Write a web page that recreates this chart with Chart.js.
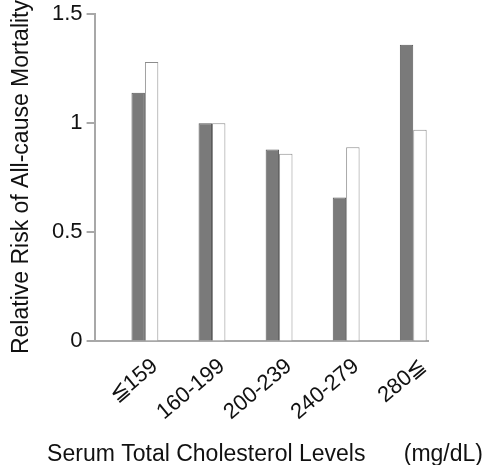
<!DOCTYPE html>
<html>
<head>
<meta charset="utf-8">
<script src="https://cdn.jsdelivr.net/npm/chart.js@4"></script>
<style>
  html, body { margin: 0; padding: 0; background: #fff; }
  #wrap { width: 485px; height: 465px; }
</style>
</head>
<body>
<div id="wrap"><canvas id="c" width="485" height="465"></canvas></div>
<script>
// Cholesterol level groups (mg/dL)
const categories = ['≦159', '160-199', '200-239', '240-279', '280≦'];
// Relative risk of all-cause mortality, two series per group
const seriesDark = [1.14, 1.00, 0.88, 0.66, 1.36];
const seriesLight = [1.28, 1.00, 0.86, 0.89, 0.97];
const yTicks = [0, 0.5, 1, 1.5];
const yTickLabels = ['0', '0.5', '1', '1.5'];

const positions = categories.map((_, i) => i + 1);
const toPoints = vals => vals.map((v, i) => ({ x: positions[i], y: v }));

const font = 'Liberation Sans, Arial, sans-serif';
const axisGray = '#a8a8a8';
const textColor = '#111';

new Chart(document.getElementById('c'), {
  type: 'bar',
  data: {
    datasets: [
      {
        data: toPoints(seriesDark),
        backgroundColor: '#7a7a7a',
        borderColor: '#585858',
        borderWidth: 1,
        categoryPercentage: 0.4,
        barPercentage: 1.0
      },
      {
        data: toPoints(seriesLight),
        backgroundColor: '#ffffff',
        borderColor: '#8c8c8c',
        borderWidth: 1,
        categoryPercentage: 0.4,
        barPercentage: 1.0
      }
    ]
  },
  options: {
    responsive: false,
    animation: false,
    layout: { padding: { left: 0, right: 2, top: 0, bottom: 0 } },
    plugins: {
      legend: { display: false },
      tooltip: { enabled: false },
      // x-axis caption, right-aligned under the plot
      title: {
        display: true,
        position: 'bottom',
        align: 'end',
        fullSize: true,
        text: 'Serum Total Cholesterol Levels      (mg/dL)',
        color: textColor,
        font: { family: font, size: 23, weight: 'normal', lineHeight: 1 },
        padding: { top: 14, bottom: -1.5 }
      },
      // y-axis caption, running up the left edge
      subtitle: {
        display: true,
        position: 'left',
        align: 'end',
        fullSize: true,
        text: 'Relative Risk of All-cause Mortality',
        color: textColor,
        font: { family: font, size: 23, weight: 'normal', lineHeight: 1 },
        padding: { top: 10, bottom: 15 }
      }
    },
    scales: {
      x: {
        type: 'linear',
        min: 0.25,
        max: 5.22,
        offset: false,
        afterBuildTicks: s => { s.ticks = positions.map(p => ({ value: p })); },
        grid: { display: false, offset: false },
        border: { display: true, color: axisGray, width: 2 },
        ticks: {
          callback: v => categories[v - 1],
          minRotation: 40,
          maxRotation: 40,
          autoSkip: false,
          labelOffset: 10,
          color: textColor,
          padding: 4,
          font: { family: font, size: 22 }
        }
      },
      y: {
        min: 0,
        max: 1.5,
        afterBuildTicks: s => { s.ticks = yTicks.map(v => ({ value: v })); },
        grid: { drawOnChartArea: false, drawTicks: true, tickLength: 8, color: axisGray, lineWidth: 2 },
        border: { display: true, color: axisGray, width: 2 },
        ticks: {
          callback: v => yTickLabels[yTicks.indexOf(v)],
          color: textColor,
          padding: 4,
          font: { family: font, size: 22, lineHeight: 0.92 }
        }
      },
      // blank right-hand margin beside the plot
      yRight: {
        position: 'right',
        display: true,
        grid: { display: false },
        border: { display: false },
        ticks: { display: false },
        afterFit: s => { s.width = 55; }
      }
    }
  }
});
</script>
</body>
</html>
